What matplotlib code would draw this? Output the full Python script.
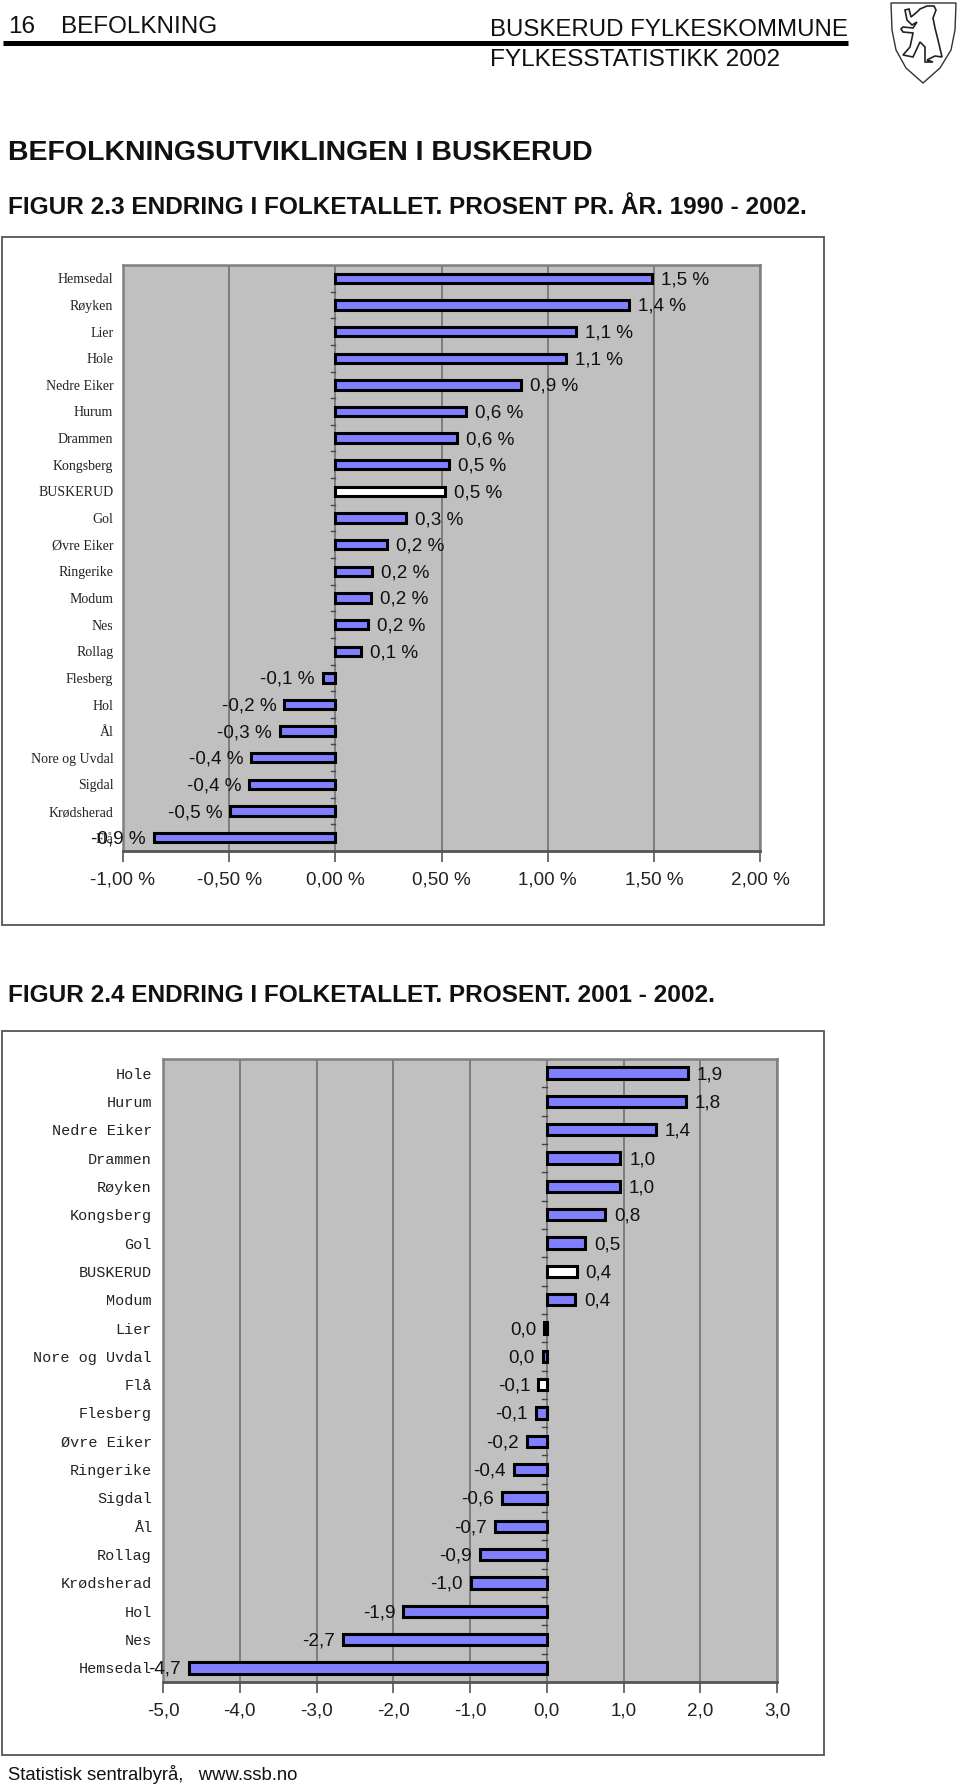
import matplotlib
matplotlib.use("Agg")
import matplotlib.pyplot as plt
from matplotlib.patches import Polygon, Rectangle

W, H = 960, 1787
SANS = "Liberation Sans"

# figur 2.3
kommuner_1 = ["Hemsedal", "Røyken", "Lier", "Hole", "Nedre Eiker", "Hurum", "Drammen", "Kongsberg",
              "BUSKERUD", "Gol", "Øvre Eiker", "Ringerike", "Modum", "Nes", "Rollag", "Flesberg",
              "Hol", "Ål", "Nore og Uvdal", "Sigdal", "Krødsherad", "Flå"]
verdier_1 = [1.49, 1.385, 1.135, 1.085, 0.875, 0.615, 0.575, 0.535, 0.515, 0.335, 0.245, 0.175, 0.17, 0.155, 0.12,
             -0.06, -0.24, -0.26, -0.395, -0.405, -0.495, -0.855]
etiketter_1 = ["1,5 %", "1,4 %", "1,1 %", "1,1 %", "0,9 %", "0,6 %", "0,6 %", "0,5 %", "0,5 %", "0,3 %",
               "0,2 %", "0,2 %", "0,2 %", "0,2 %", "0,1 %", "-0,1 %", "-0,2 %", "-0,3 %", "-0,4 %",
               "-0,4 %", "-0,5 %", "-0,9 %"]
ticks_1 = [-1.0, -0.5, 0.0, 0.5, 1.0, 1.5, 2.0]
ticklabels_1 = ["-1,00 %", "-0,50 %", "0,00 %", "0,50 %", "1,00 %", "1,50 %", "2,00 %"]

# figur 2.4
kommuner_2 = ["Hole", "Hurum", "Nedre Eiker", "Drammen", "Røyken", "Kongsberg", "Gol", "BUSKERUD", "Modum",
              "Lier", "Nore og Uvdal", "Flå", "Flesberg", "Øvre Eiker", "Ringerike", "Sigdal", "Ål",
              "Rollag", "Krødsherad", "Hol", "Nes", "Hemsedal"]
verdier_2 = [1.84, 1.81, 1.42, 0.96, 0.95, 0.76, 0.50, 0.39, 0.37, -0.03, -0.055, -0.11, -0.14, -0.26, -0.43,
             -0.58, -0.68, -0.87, -0.99, -1.87, -2.66, -4.66]
etiketter_2 = ["1,9", "1,8", "1,4", "1,0", "1,0", "0,8", "0,5", "0,4", "0,4", "0,0", "0,0", "-0,1", "-0,1",
               "-0,2", "-0,4", "-0,6", "-0,7", "-0,9", "-1,0", "-1,9", "-2,7", "-4,7"]
ticks_2 = [-5, -4, -3, -2, -1, 0, 1, 2, 3]
ticklabels_2 = ["-5,0", "-4,0", "-3,0", "-2,0", "-1,0", "0,0", "1,0", "2,0", "3,0"]

fig = plt.figure(figsize=(W / 100, H / 100), dpi=100, facecolor="white")

# bakgrunn i pikselkoordinater for tekst og rammer
bg = fig.add_axes([0, 0, 1, 1])
bg.set_xlim(0, W)
bg.set_ylim(H, 0)
bg.axis("off")


def px_axes(x0, y0, x1, y1):
    return fig.add_axes([x0 / W, 1 - y1 / H, (x1 - x0) / W, (y1 - y0) / H])


def draw_chart(box, plot, xlim, names, vals, labels, ticks, ticklabels, fam, namesize, barh, hvite, pad):
    bg.add_patch(Rectangle((box[0], box[1]), box[2] - box[0], box[3] - box[1], fill=False, ec="#555555", lw=1.3))
    ax = px_axes(*plot)
    ax.set_facecolor("#c0c0c0")
    ax.set_xlim(*xlim)
    ax.set_ylim(len(names) - 0.5, -0.5)
    y = list(range(len(names)))
    colors = ["white" if n in hvite else "#8080ff" for n in names]
    ax.grid(axis="x", color="#777777", lw=1.3)
    ax.set_axisbelow(True)
    ax.barh(y, vals, height=barh, color=colors, edgecolor="black", lw=2.2, zorder=3)
    for i, (v, lab) in enumerate(zip(vals, labels)):
        ax.annotate(lab, (v, i), xytext=(9 if v > 0 else -8, -1.5), textcoords="offset pixels",
                    ha="left" if v > 0 else "right", va="center", fontsize=13.6, family=SANS,
                    color="#111111", zorder=5, annotation_clip=False)
    ax.set_xticks(ticks)
    ax.set_xticklabels(ticklabels, family=SANS, fontsize=13.6, color="#222222")
    ax.tick_params(axis="x", length=8, width=1.2, color="#555555", pad=7)
    ax.set_yticks(y)
    ax.set_yticklabels(names, family=fam, fontsize=namesize, color="#222222")
    ax.tick_params(axis="y", length=0, pad=pad)
    # små streker ved nullinja
    tick = (xlim[1] - xlim[0]) * 0.007
    for k in range(len(names) + 1):
        ax.plot([0, -tick], [k - 0.5, k - 0.5], color="#444444", lw=1, zorder=2)
    for s in ["top", "left", "right"]:
        ax.spines[s].set_color("#808080")
        ax.spines[s].set_linewidth(1.8)
    ax.spines["bottom"].set_color("#555555")
    ax.spines["bottom"].set_linewidth(2)
    return ax


draw_chart((2, 237, 824, 925), (123, 265, 760, 851), (-1.0, 2.0), kommuner_1, verdier_1, etiketter_1,
           ticks_1, ticklabels_1, "Liberation Serif", 10, 0.35, ("BUSKERUD",), 7)
draw_chart((2, 1031, 824, 1755), (163, 1059, 777, 1682), (-5.0, 3.0), kommuner_2, verdier_2, etiketter_2,
           ticks_2, ticklabels_2, "Liberation Mono", 10.9, 0.4, ("BUSKERUD", "Flå"), 8)

# topptekst
bg.text(8, 27, "16", fontsize=17.5, family=SANS, va="center", color="#111111")
bg.text(61, 27, "BEFOLKNING", fontsize=17.5, family=SANS, va="center", color="#111111")
bg.text(490, 30, "BUSKERUD FYLKESKOMMUNE", fontsize=17.3, family=SANS, va="center", color="#111111")
bg.text(490, 60, "FYLKESSTATISTIKK 2002", fontsize=17.6, family=SANS, va="center", color="#111111")
bg.plot([3, 848], [42.5, 42.5], color="black", lw=3.6, solid_capstyle="butt")

bg.text(8, 153, "BEFOLKNINGSUTVIKLINGEN I BUSKERUD", fontsize=20.5, family=SANS, weight="bold", va="center", color="#111111")
bg.text(8, 208, "FIGUR 2.3 ENDRING I FOLKETALLET. PROSENT PR. ÅR. 1990 - 2002.", fontsize=17.55, family=SANS, weight="bold", va="center", color="#111111")
bg.text(8, 995, "FIGUR 2.4 ENDRING I FOLKETALLET. PROSENT. 2001 - 2002.", fontsize=17.55, family=SANS, weight="bold", va="center", color="#111111")
bg.text(8, 1775, "Statistisk sentralbyrå,   www.ssb.no", fontsize=13.3, family=SANS, va="center", color="#111111")

# fylkesvåpen, forenklet
skjold = [(891, 3), (956, 3), (955, 30), (951, 50), (940, 68), (923, 83), (906, 68), (896, 50), (892, 30)]
bjorn = [(905, 10), (909, 9), (911, 17), (917, 12), (920, 9), (927, 6), (934, 6), (936, 10), (933, 18),
         (935, 28), (938, 40), (942, 57), (935, 56), (927, 60), (933, 62), (925, 62), (925, 47), (920, 42),
         (913, 57), (903, 55), (910, 47), (912, 38), (913, 33), (903, 32), (901, 29), (903, 27), (913, 28),
         (917, 22), (912, 25), (907, 20)]
bg.add_patch(Polygon(skjold, closed=True, fc="white", ec="#333333", lw=1))
bg.add_patch(Polygon(bjorn, closed=True, fc="white", ec="#222222", lw=1.2))

fig.savefig("out.png", dpi=100)
